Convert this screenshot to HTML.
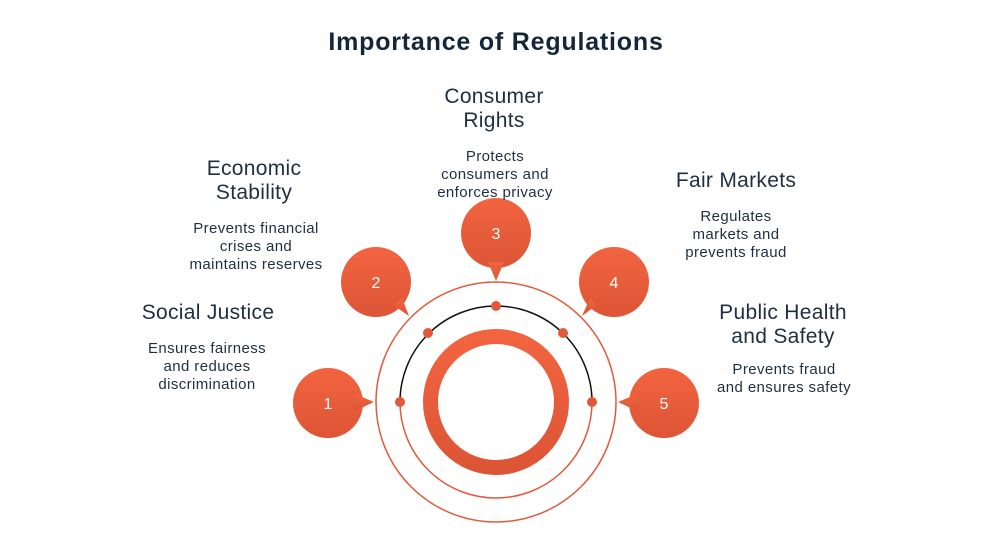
<!DOCTYPE html>
<html><head><meta charset="utf-8"><style>
body{margin:0;width:992px;height:558px;background:#fff;position:relative;overflow:hidden;font-family:"Liberation Sans",sans-serif;color:#1f2f40}
.t{position:absolute;text-align:center;transform:translateX(-50%);white-space:nowrap}
.h{font-size:21px;line-height:24px;letter-spacing:0.3px}
.d{font-size:15px;line-height:18px;letter-spacing:0.4px}
svg{position:absolute;left:0;top:0}
</style></head><body>
<div class="t" style="left:496px;top:28px;font-size:25px;font-weight:bold;color:#14263a;letter-spacing:0.8px">Importance of Regulations</div>
<svg width="992" height="558">
<defs><linearGradient id="g" x1="0" y1="0" x2="0" y2="1"><stop offset="0" stop-color="#f26440"/><stop offset="1" stop-color="#dc5535"/></linearGradient></defs>
<circle cx="496" cy="402" r="120" fill="none" stroke="#e05a3a" stroke-width="1.5"/>
<path d="M400 402 A96 96 0 0 1 592 402" fill="none" stroke="#111" stroke-width="1.5"/>
<path d="M400 402 A96 96 0 0 0 592 402" fill="none" stroke="#e05a3a" stroke-width="1.5"/>
<circle cx="496" cy="402" r="65.5" fill="none" stroke="url(#g)" stroke-width="15"/>
<g fill="#e3583a"><circle cx="496" cy="306" r="5"/><circle cx="428" cy="333" r="5"/><circle cx="563" cy="333" r="5"/><circle cx="400" cy="402" r="5"/><circle cx="592" cy="402" r="5"/></g>
<g fill="url(#g)">
<circle cx="328" cy="403" r="35"/><polygon points="355,394 374,402 355,411"/>
<circle cx="376" cy="282" r="35"/><polygon points="393,305 409,316 402,298"/>
<circle cx="496" cy="233" r="35"/><polygon points="488,262 496,281 504,262"/>
<circle cx="614" cy="282" r="35"/><polygon points="597,305 582,316 590,298"/>
<circle cx="664" cy="403" r="35"/><polygon points="637,394 618,402 637,411"/>
</g>
<g fill="#fff" font-family="Liberation Sans,sans-serif" font-size="16" text-anchor="middle">
<text x="328" y="409">1</text><text x="376" y="288">2</text><text x="496" y="239">3</text><text x="614" y="288">4</text><text x="664" y="409">5</text>
</g>
</svg>
<div class="t h" style="left:208px;top:301px">Social Justice</div>
<div class="t d" style="left:207px;top:340px">Ensures fairness<br>and reduces<br>discrimination</div>
<div class="t h" style="left:254px;top:157px">Economic<br>Stability</div>
<div class="t d" style="left:256px;top:220px">Prevents financial<br>crises and<br>maintains reserves</div>
<div class="t h" style="left:494px;top:85px">Consumer<br>Rights</div>
<div class="t d" style="left:495px;top:148px">Protects<br>consumers and<br>enforces privacy</div>
<div class="t h" style="left:736px;top:169px">Fair Markets</div>
<div class="t d" style="left:736px;top:208px">Regulates<br>markets and<br>prevents fraud</div>
<div class="t h" style="left:783px;top:301px">Public Health<br>and Safety</div>
<div class="t d" style="left:784px;top:361px">Prevents fraud<br>and ensures safety</div>
</body></html>
